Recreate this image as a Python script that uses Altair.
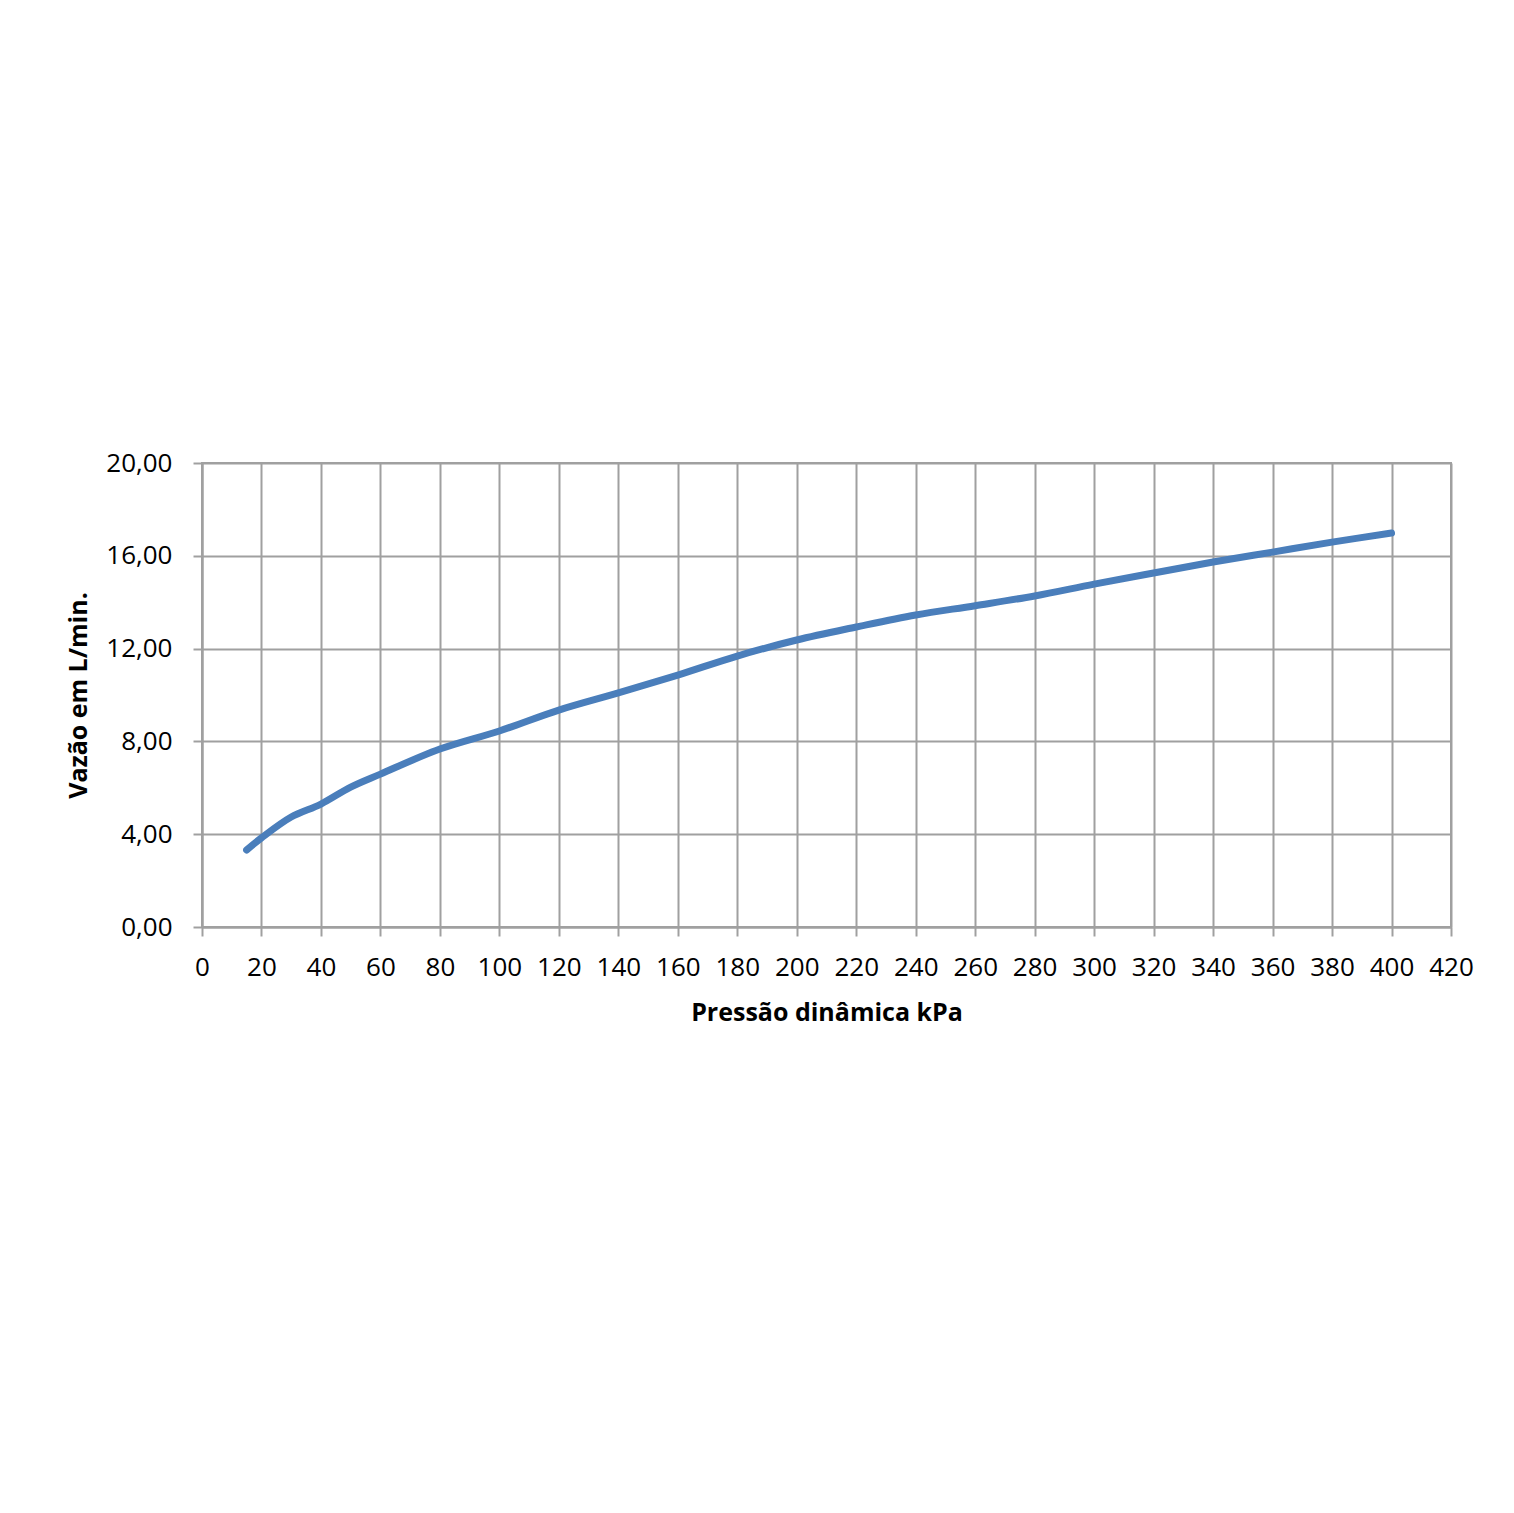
import altair as alt
import pandas as pd

pressure = [15, 20, 30, 40, 50, 60, 80, 100, 120, 140, 160, 180, 200, 220, 240,
            260, 280, 300, 320, 340, 360, 380, 400]
flow = [3.32, 3.84, 4.74, 5.30, 6.03, 6.59, 7.67, 8.45, 9.35, 10.09, 10.86, 11.68,
        12.37, 12.93, 13.45, 13.85, 14.27, 14.78, 15.26, 15.73, 16.16, 16.59, 16.98]

df = pd.DataFrame({"p": pressure, "q": flow})

FONT = "Open Sans"

chart = alt.Chart(df).mark_line(
    color="#4a7ebb", strokeWidth=7, strokeCap="round", interpolate="catmull-rom"
).encode(
    x=alt.X("p:Q", scale=alt.Scale(domain=[0, 420], nice=False, zero=True),
            axis=alt.Axis(values=list(range(0, 421, 20)), title="Pressão dinâmica kPa",
                          labelFontSize=26, titleFontSize=25, labelFont=FONT, titleFont=FONT,
                          titleFontWeight="bold", labelColor="#000", titleColor="#000",
                          tickSize=9, tickColor="#a0a0a0", tickWidth=2,
                          domainColor="#a0a0a0", domainWidth=2,
                          gridColor="#a0a0a0", gridWidth=2, labelPadding=18,
                          titlePadding=20, labelFlush=False, labelOverlap=False)),
    y=alt.Y("q:Q", scale=alt.Scale(domain=[0, 20], nice=False),
            axis=alt.Axis(values=[0, 4, 8, 12, 16, 20], title="Vazão em L/min.",
                          labelExpr="replace(format(datum.value, '.2f'), '.', ',')",
                          labelFontSize=26, titleFontSize=25, labelFont=FONT, titleFont=FONT,
                          titleFontWeight="bold", labelColor="#000", titleColor="#000",
                          tickSize=9, tickColor="#a0a0a0", tickWidth=2,
                          domainColor="#a0a0a0", domainWidth=2,
                          gridColor="#a0a0a0", gridWidth=2, labelPadding=21,
                          titlePadding=14, labelFlush=False, labelOverlap=False)),
).properties(
    width=1249, height=464,
    autosize=alt.AutoSizeParams(type="none"),
    padding={"left": 194, "top": 455, "right": 55, "bottom": 540},
    background="white",
).configure_view(stroke="#a0a0a0", strokeWidth=2)

chart.save("out.html", embed_options={"renderer": "svg", "actions": False})
